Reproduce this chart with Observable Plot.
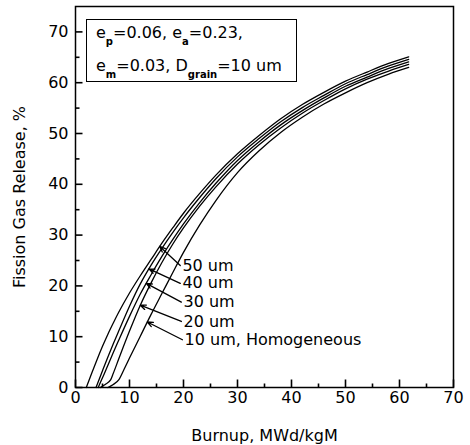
<!DOCTYPE html>
<html>
<head>
<meta charset="utf-8">
<script src="https://cdn.jsdelivr.net/npm/d3@7"></script>
<script src="https://cdn.jsdelivr.net/npm/@observablehq/plot@0.6"></script>
<style>
  body { margin: 0; background: #fff; }
  #wrap { position: relative; width: 470px; height: 445px; font-family: "DejaVu Sans", sans-serif; color: #000; }
  #note { position: absolute; left: 86px; top: 19px; width: 211px; height: 63px; box-sizing: border-box;
          border: 1.5px solid #000; background: #fff; font-size: 16px; }
  #note .ln { position: absolute; left: 9px; line-height: 16px; white-space: nowrap; }
  #note sub { font-size: 10px; font-weight: bold; vertical-align: -7px; line-height: 0; }
</style>
</head>
<body>
<div id="wrap">
  <div id="chart"></div>
  <div id="note">
    <div class="ln" style="top:5px">e<sub>p</sub>=0.06, e<sub>a</sub>=0.23,</div>
    <div class="ln" style="top:37.5px">e<sub>m</sub>=0.03, D<sub>grain</sub>=10 um</div>
  </div>
</div>
<script>
// ---- data ----
const seriesNames = ["50 um", "40 um", "30 um", "20 um", "10 um"];

const burnup50 = [2, 3, 4, 5, 6, 7, 8, 10, 12, 14, 16, 18, 20, 23, 26, 30, 34, 38, 42, 46, 50, 54, 58, 61.7];
const fgr50    = [0, 2.8, 5.5, 8.1, 10.5, 12.7, 14.8, 18.6, 22.0, 25.2, 28.4, 31.4, 34.3, 38.2, 41.8, 46.0, 49.6, 52.9, 55.7, 58.1, 60.3, 62.1, 63.8, 65.1];

const burnup40 = [3.8, 5, 6, 7, 8, 10, 12, 14, 16, 18, 20, 23, 26, 30, 34, 38, 42, 46, 50, 54, 58, 61.7];
const fgr40    = [0, 3.3, 6.0, 8.6, 11.1, 16.0, 20.4, 24.1, 27.4, 30.5, 33.4, 37.4, 41.1, 45.4, 49.0, 52.3, 55.1, 57.5, 59.8, 61.6, 63.3, 64.6];

const burnup30 = [4.2, 5, 6, 7, 8, 10, 12, 14, 16, 18, 20, 23, 26, 30, 34, 38, 42, 46, 50, 54, 58, 61.7];
const fgr30    = [0, 1.9, 4.4, 6.9, 9.3, 14.0, 18.4, 22.2, 25.8, 29.1, 32.2, 36.4, 40.2, 44.7, 48.4, 51.7, 54.5, 57.0, 59.3, 61.1, 62.8, 64.1];

const burnup20 = [4.6, 5.5, 6.5, 7, 8, 10, 12, 14, 16, 18, 20, 23, 26, 30, 34, 38, 42, 46, 50, 54, 58, 61.7];
const fgr20    = [0, 0.6, 1.5, 2.8, 5.6, 11.1, 16.2, 20.6, 24.6, 28.2, 31.4, 35.7, 39.5, 44.0, 47.8, 51.1, 54.0, 56.5, 58.8, 60.7, 62.3, 63.6];

const burnup10 = [6.0, 7, 8, 9, 10, 12, 14, 16, 18, 20, 23, 26, 30, 34, 38, 42, 46, 50, 54, 58, 61.7];
const fgr10    = [0, 0.6, 1.5, 3.6, 5.8, 10.1, 14.4, 18.5, 22.6, 26.6, 32.0, 36.8, 42.3, 46.6, 50.2, 53.2, 55.8, 58.0, 60.0, 61.7, 63.0];

const xTicks = [0, 10, 20, 30, 40, 50, 60, 70];
const xMinorTicks = [5, 15, 25, 35, 45, 55, 65];
const yTicks = [0, 10, 20, 30, 40, 50, 60, 70];
const yMinorTicks = [5, 15, 25, 35, 45, 55, 65];

// curve annotations: label text, target series, label anchor (data units), arrow tip burnup
const labelTexts  = ["50 um", "40 um", "30 um", "20 um", "10 um, Homogeneous"];
const labelSeries = ["50 um", "40 um", "30 um", "20 um", "10 um"];
const labelX      = [19.8, 19.8, 20.0, 20.0, 20.2];
const labelY      = [24.0, 20.5, 16.8, 13.0, 9.4];
const tipBurnup   = [15.6, 13.6, 13.1, 12.0, 13.3];

// ---- build tables ----
const xs = [burnup50, burnup40, burnup30, burnup20, burnup10];
const ys = [fgr50, fgr40, fgr30, fgr20, fgr10];
const rows = seriesNames.flatMap((name, k) => xs[k].map((x, i) => ({series: name, x, y: ys[k][i]})));

function valueAt(name, x) {
  const k = seriesNames.indexOf(name);
  const X = xs[k], Y = ys[k];
  for (let i = 0; i < X.length - 1; i++) {
    if (x >= X[i] && x <= X[i + 1]) return Y[i] + (Y[i + 1] - Y[i]) * (x - X[i]) / (X[i + 1] - X[i]);
  }
  return Y[Y.length - 1];
}
const notes = labelTexts.map((t, i) => ({
  text: t, lx: labelX[i], ly: labelY[i],
  tx: labelX[i] - 0.4, ty: labelY[i],
  hx: tipBurnup[i], hy: valueAt(labelSeries[i], tipBurnup[i])
}));

const W = 470, H = 445, ML = 75, MR = 17, MT = 6, MB = 58;
const xDomain = [0, 70], yDomain = [0, 75];
const perPxY = (yDomain[1] - yDomain[0]) / (H - MT - MB);
const perPxX = (xDomain[1] - xDomain[0]) / (W - ML - MR);

const majorX = xTicks.map(v => ({v}));
const minorX = xMinorTicks.map(v => ({v}));
const majorY = yTicks.map(v => ({v}));
const minorY = yMinorTicks.map(v => ({v}));

const chart = Plot.plot({
  width: W, height: H,
  marginLeft: ML, marginRight: MR, marginTop: MT, marginBottom: MB,
  style: {fontFamily: "DejaVu Sans, sans-serif", fontSize: "16px", color: "#000", background: "#fff"},
  x: {domain: xDomain},
  y: {domain: yDomain},
  marks: [
    Plot.link(majorX, {x1: "v", x2: "v", y1: () => 0, y2: () => 8 * perPxY, stroke: "#000", strokeWidth: 1.6}),
    Plot.link(minorX, {x1: "v", x2: "v", y1: () => 0, y2: () => 4 * perPxY, stroke: "#000", strokeWidth: 1.6}),
    Plot.link(majorY, {y1: "v", y2: "v", x1: () => 0, x2: () => 7 * perPxX, stroke: "#000", strokeWidth: 1.6}),
    Plot.link(minorY, {y1: "v", y2: "v", x1: () => 0, x2: () => 4 * perPxX, stroke: "#000", strokeWidth: 1.6}),
    Plot.frame({stroke: "#000", strokeWidth: 1.5}),
    Plot.axisX({ticks: xTicks, tickSize: 0, tickPadding: 4, fontSize: 16,
                label: "Burnup, MWd/kgM", labelAnchor: "center", labelOffset: 53, labelArrow: false}),
    Plot.axisY({ticks: yTicks, tickSize: 0, tickPadding: 7, fontSize: 16,
                label: "Fission Gas Release, %", labelAnchor: "center", labelOffset: 62, labelArrow: false}),
    Plot.line(rows, {x: "x", y: "y", z: "series", stroke: "#000", strokeWidth: 1.3, curve: "monotone-x"}),
    Plot.arrow(notes, {x1: "tx", y1: "ty", x2: "hx", y2: "hy", stroke: "#000", strokeWidth: 1.3, headLength: 7, headAngle: 45}),
    Plot.text(notes, {x: "lx", y: "ly", text: "text", textAnchor: "start", fontSize: 16, fill: "#000"})
  ]
});
document.getElementById("chart").appendChild(chart);
</script>
</body>
</html>
